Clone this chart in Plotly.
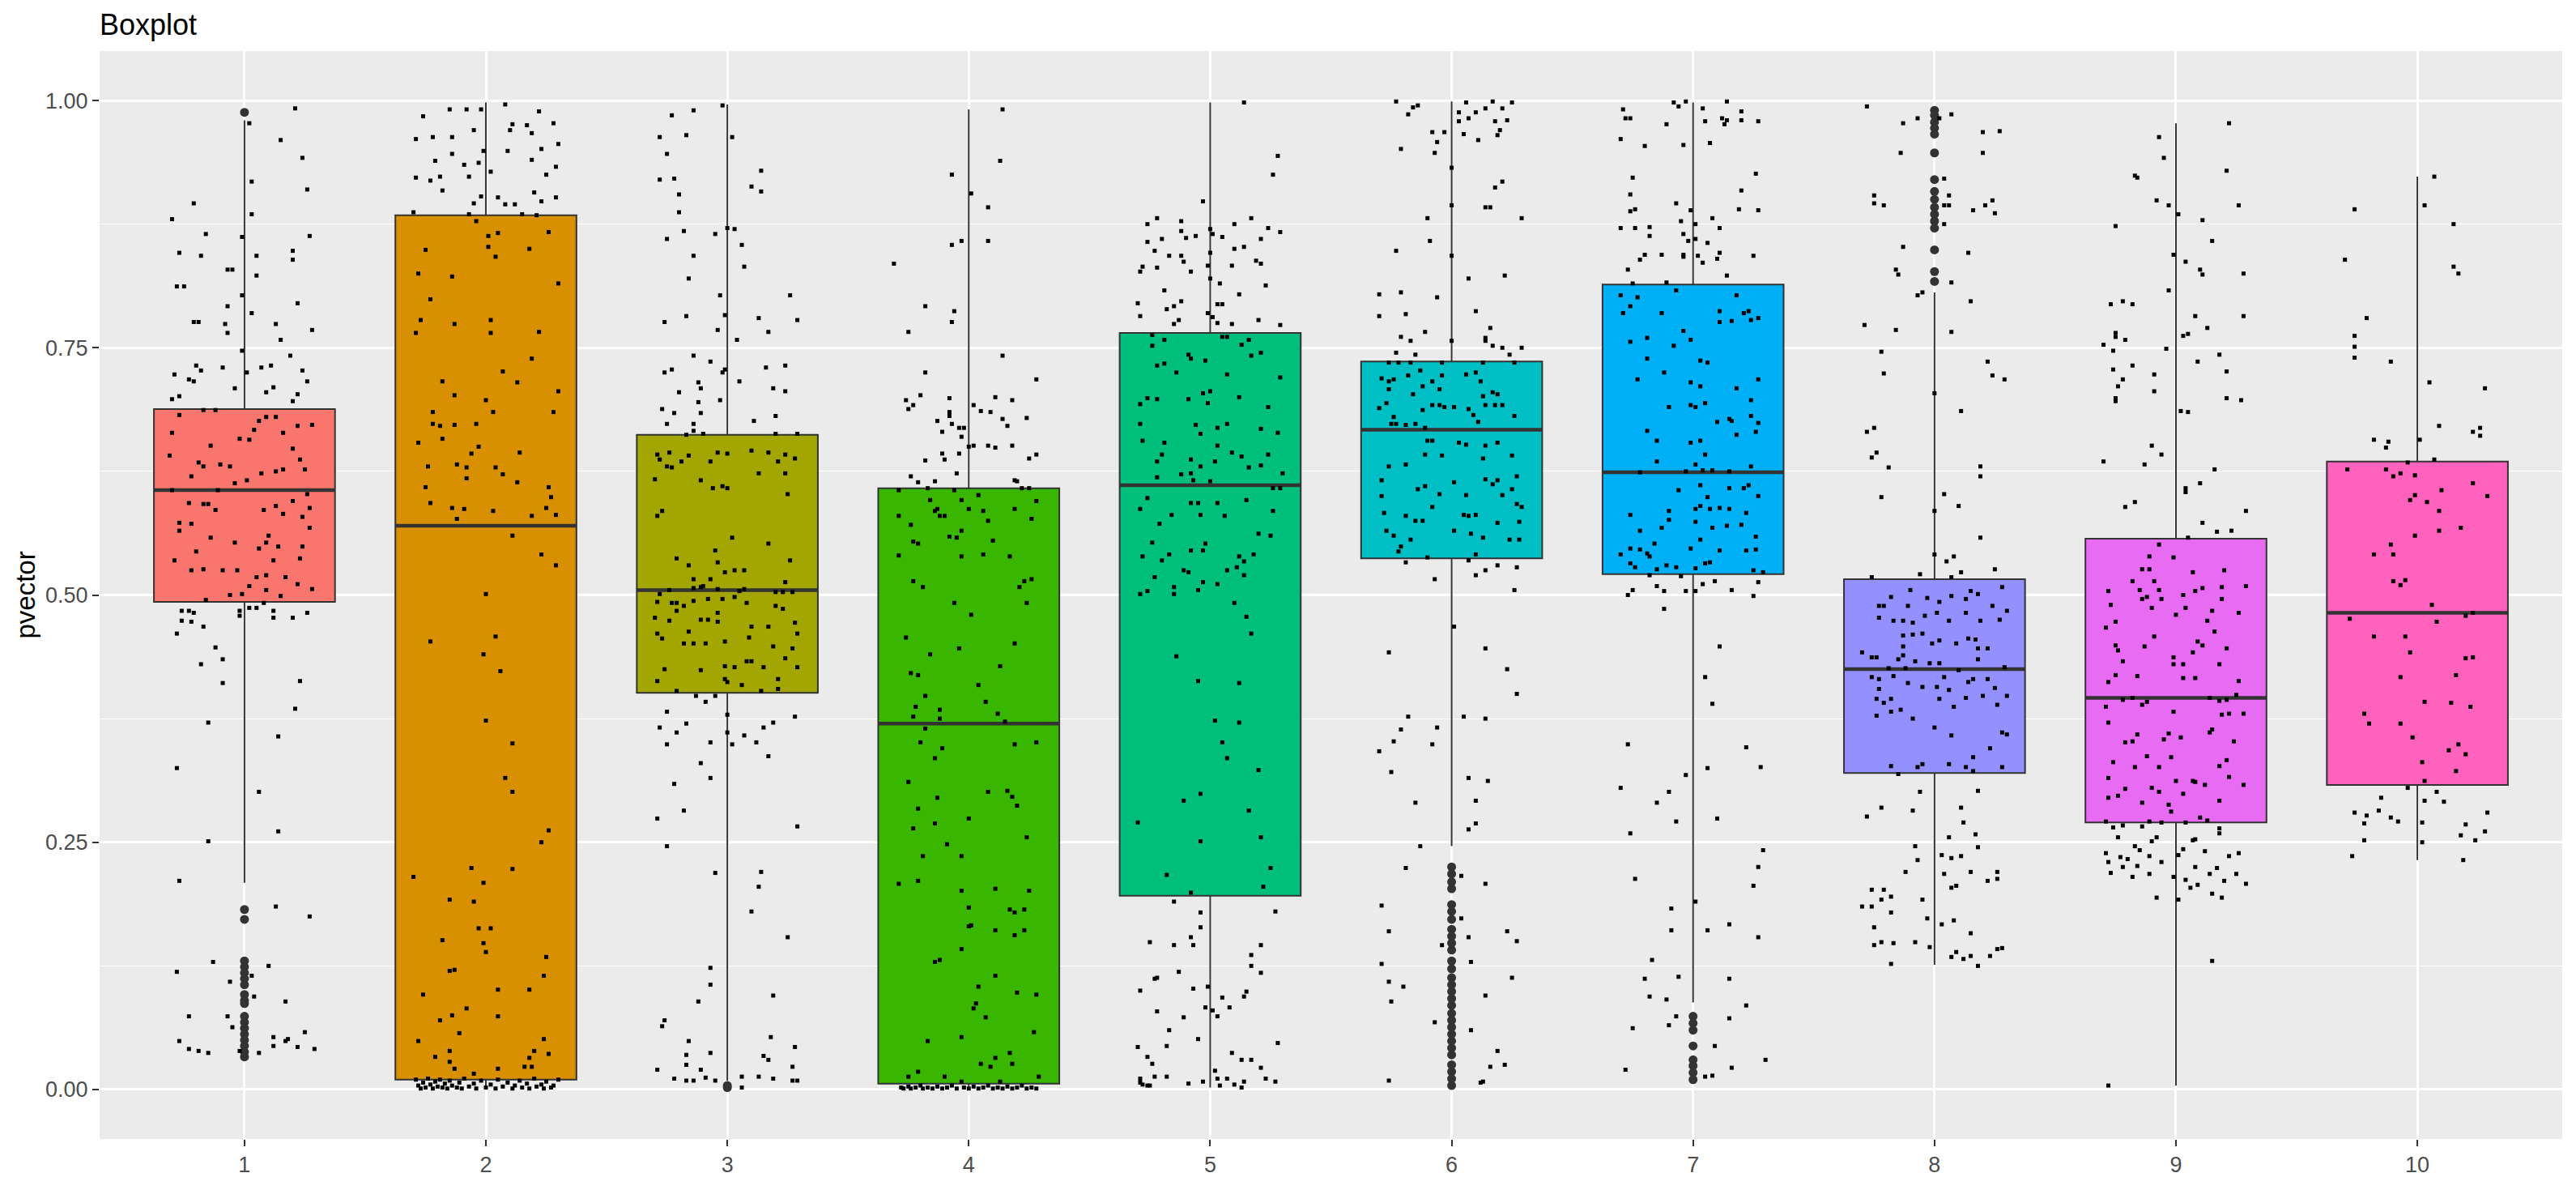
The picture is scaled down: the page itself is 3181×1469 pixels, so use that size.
import plotly.graph_objects as go

groups = [1, 2, 3, 4, 5, 6, 7, 8, 9, 10]
tick_labels = ["1", "2", "3", "4", "5", "6", "7", "8", "9", "10"]
fill_colors = ["#F8766D", "#D89000", "#A3A500", "#39B600", "#00BF7D",
               "#00BFC4", "#00B0F6", "#9590FF", "#E76BF3", "#FF62BC"]

# box statistics
q1s = [0.493, 0.010, 0.401, 0.006, 0.196, 0.537, 0.521, 0.320, 0.270, 0.308]
medians = [0.606, 0.570, 0.505, 0.370, 0.611, 0.667, 0.624, 0.425, 0.396, 0.482]
q3s = [0.688, 0.884, 0.662, 0.608, 0.765, 0.736, 0.814, 0.516, 0.557, 0.635]
low_whisker = [0.209, 0.0005, 0.009, 0.0005, 0.002, 0.246, 0.088, 0.126, 0.004, 0.232]
high_whisker = [0.980, 0.998, 0.996, 0.991, 0.998, 0.999, 0.998, 0.806, 0.977, 0.923]

# outliers (drawn at the group centre)
out_1 = [0.988, 0.182, 0.172, 0.130, 0.124, 0.118, 0.112, 0.106, 0.096, 0.090, 0.087,
         0.074, 0.068, 0.062, 0.056, 0.050, 0.044, 0.038, 0.033]
out_2 = []
out_3 = [0.004, 0.002]
out_4 = []
out_5 = []
out_6 = [0.225, 0.218, 0.210, 0.203, 0.187, 0.180, 0.172, 0.162, 0.155, 0.148, 0.141,
         0.130, 0.122, 0.113, 0.106, 0.099, 0.092, 0.085, 0.077, 0.070, 0.063, 0.056,
         0.049, 0.042, 0.035, 0.025, 0.018, 0.011, 0.004]
out_7 = [0.074, 0.067, 0.060, 0.044, 0.030, 0.024, 0.017, 0.010]
out_8 = [0.990, 0.985, 0.978, 0.972, 0.966, 0.947, 0.920, 0.908, 0.900, 0.892, 0.885,
         0.878, 0.871, 0.849, 0.827, 0.817]
out_9 = []
out_10 = []
outliers = [out_1, out_2, out_3, out_4, out_5, out_6, out_7, out_8, out_9, out_10]

# jittered observations: (horizontal jitter offset, value)
jit_1 = [(0.21,0.992),(0.02,0.977),(0.15,0.960),(0.24,0.942),(0.03,0.918),(0.26,0.910),(-0.21,0.896),
(-0.30,0.880),(0.03,0.885),(-0.01,0.862),(-0.16,0.865),(0.27,0.863),(-0.27,0.846),(-0.18,0.843),(0.05,0.843),
(0.20,0.848),(0.20,0.839),(-0.07,0.829),(-0.05,0.829),(0.05,0.823),(-0.28,0.812),(-0.25,0.812),(-0.01,0.803),
(-0.07,0.792),(0.22,0.795),(0.03,0.785),(-0.21,0.776),(-0.19,0.776),(-0.08,0.774),(-0.07,0.765),(0.13,0.774),
(0.15,0.758),(0.28,0.768),(-0.01,0.747),(0.19,0.742),(-0.29,0.723),(-0.23,0.718),(-0.20,0.732),(-0.18,0.727),
(-0.09,0.730),(0.01,0.725),(0.07,0.730),(0.11,0.732),(0.24,0.727),(0.26,0.716),(-0.21,0.716),(-0.27,0.701),
(-0.30,0.698),(-0.04,0.709),(0.09,0.705),(0.12,0.710),(0.20,0.696),(0.22,0.703),
(-0.27,0.682),(-0.17,0.687),(-0.12,0.687),(-0.30,0.664),(-0.14,0.651),(-0.31,0.641),(-0.22,0.620),(-0.19,0.634),
(-0.17,0.630),(-0.10,0.632),(-0.06,0.630),(-0.02,0.658),(0.02,0.657),(0.04,0.667),(0.06,0.676),(0.09,0.680),
(0.13,0.680),(0.16,0.664),(0.22,0.671),(0.28,0.672),(0.20,0.648),(0.23,0.637),(0.25,0.627),(0.16,0.627),
(0.13,0.625),(0.07,0.623),(0.01,0.616),(-0.04,0.613),(-0.11,0.606),(-0.30,0.606),(-0.23,0.593),(-0.17,0.592),
(-0.15,0.592),(-0.12,0.586),(-0.27,0.573),(-0.22,0.572),(-0.27,0.565),(-0.14,0.558),(-0.20,0.544),(-0.29,0.535),
(-0.22,0.525),(-0.17,0.526),(-0.09,0.525),(-0.03,0.525),(-0.04,0.553),(0.02,0.509),(0.06,0.547),(0.09,0.553),
(0.10,0.560),(0.14,0.549),(0.08,0.586),(0.13,0.590),(0.16,0.582),(0.20,0.595),(0.26,0.602),(0.27,0.588),
(0.24,0.579),(0.27,0.568),(0.23,0.537),(0.24,0.549),(0.12,0.535),(0.17,0.518),(0.09,0.520),(0.09,0.505),
(0.15,0.499),(0.22,0.511),(0.28,0.506),(-0.06,0.500),(-0.16,0.495),(-0.01,0.501),(0.05,0.518),
(-0.26,0.484),(-0.23,0.484),(-0.21,0.482),(-0.28,0.461),(-0.26,0.474),(-0.22,0.473),(-0.17,0.468),(-0.12,0.447),
(-0.18,0.430),(-0.09,0.435),(-0.09,0.411),(-0.02,0.484),(-0.02,0.479),(0.02,0.487),(0.05,0.487),(0.08,0.492),
(0.12,0.484),(0.12,0.477),(0.20,0.477),(0.26,0.482),(0.23,0.413),(0.21,0.385),(-0.15,0.371),(0.14,0.357),
(-0.28,0.325),(0.06,0.301),(-0.15,0.251),(0.14,0.261),(-0.27,0.211),
(0.13,0.185),(0.27,0.175),(-0.13,0.129),(-0.28,0.119),(0.10,0.125),(-0.06,0.109),(0.03,0.115),(0.04,0.094),
(0.17,0.089),(-0.23,0.074),(-0.07,0.074),(-0.05,0.063),(-0.27,0.049),(-0.23,0.041),(-0.19,0.039),(-0.15,0.037),
(-0.02,0.039),(0.06,0.037),(0.12,0.053),(0.12,0.044),(0.17,0.049),(0.18,0.051),(0.22,0.043),(0.25,0.058),(0.29,0.041)]

jit_2 = [(-0.26,0.984),(-0.15,0.991),(-0.08,0.991),(-0.02,0.991),(0.08,0.996),(0.11,0.976),(0.17,0.975),
(0.22,0.989),(0.28,0.977),(-0.29,0.961),(-0.22,0.963),(-0.14,0.963),(-0.05,0.970),(-0.01,0.949),(0.09,0.949),
(0.10,0.970),(0.19,0.967),(0.23,0.951),(0.30,0.956),(-0.21,0.939),(-0.14,0.946),(-0.09,0.935),(-0.03,0.937),
(0.19,0.940),(-0.29,0.922),(-0.23,0.919),(-0.19,0.923),(-0.07,0.923),(0.02,0.928),(0.25,0.925),(0.29,0.933),
(-0.18,0.909),(0.20,0.907),(0.29,0.902),(-0.05,0.896),(-0.02,0.903),(0.05,0.902),(0.08,0.895),(0.12,0.895),
(0.23,0.898),(-0.30,0.887),(-0.07,0.885),(0.15,0.885),(0.21,0.884),
(-0.04,0.878),(0.01,0.863),(0.05,0.866),(0.01,0.852),(0.04,0.842),(-0.25,0.849),(0.18,0.850),(0.26,0.867),
(-0.28,0.825),(-0.14,0.822),(0.30,0.815),(-0.23,0.799),(-0.27,0.778),(-0.29,0.765),(-0.13,0.774),(0.02,0.778),
(0.02,0.765),(0.22,0.766),(0.19,0.739),(0.07,0.726),(-0.18,0.716),(0.13,0.715),(0.30,0.706),(-0.13,0.702),
(0.00,0.697),(-0.22,0.685),(0.03,0.685),(0.28,0.685),(-0.22,0.673),(-0.19,0.671),(-0.13,0.672),(-0.04,0.673),
(-0.18,0.658),(-0.28,0.654),(-0.03,0.650),(-0.06,0.643),(0.14,0.644),(-0.24,0.630),(-0.12,0.632),(-0.08,0.629),
(0.04,0.629),(0.07,0.622),(-0.25,0.609),(-0.08,0.618),(0.13,0.614),(0.26,0.609),(0.27,0.599),(-0.23,0.593),
(-0.14,0.588),(-0.09,0.587),(0.03,0.585),(0.25,0.588),(0.29,0.581),(0.19,0.580),(-0.12,0.577),
(0.11,0.560),(0.23,0.541),(0.29,0.530),(0.00,0.501),(-0.23,0.453),(0.04,0.458),(-0.01,0.440),(0.06,0.423),
(0.00,0.373),(0.11,0.350),(0.08,0.315),(0.11,0.301),(0.23,0.250),(0.26,0.262),(-0.30,0.215),(-0.06,0.224),
(-0.01,0.209),(0.11,0.223),(-0.15,0.192),(-0.05,0.190),(-0.03,0.163),(0.02,0.163),(-0.01,0.148),(0.00,0.139),
(-0.18,0.151),(-0.15,0.120),(-0.13,0.121),(0.25,0.134),(0.24,0.115),(-0.26,0.096),(-0.08,0.082),(0.05,0.101),
(0.18,0.101),(-0.19,0.070),(-0.14,0.075),(-0.11,0.057),(0.05,0.074),(-0.28,0.049),(-0.21,0.033),(-0.15,0.039),
(-0.15,0.028),(-0.13,0.021),(0.18,0.032),(0.20,0.039),(0.24,0.051),(0.26,0.036),(0.16,0.023),(0.19,0.023),
(0.05,0.021),(-0.05,0.016),
(-0.29,0.010),(-0.28,0.004),(-0.27,0.001),(-0.26,0.007),(-0.25,0.002),(-0.24,0.011),(-0.23,0.005),(-0.22,0.001),
(-0.21,0.008),(-0.20,0.003),(-0.19,0.010),(-0.18,0.002),(-0.17,0.006),(-0.16,0.001),(-0.15,0.009),(-0.14,0.004),
(-0.12,0.002),(-0.11,0.007),(-0.10,0.001),(-0.09,0.011),(-0.07,0.003),(-0.05,0.006),(-0.04,0.001),(-0.02,0.009),
(0.00,0.002),(0.02,0.005),(0.04,0.001),(0.05,0.010),(0.07,0.003),(0.09,0.007),(0.11,0.001),(0.12,0.004),
(0.14,0.009),(0.15,0.002),(0.17,0.006),(0.18,0.001),(0.20,0.011),(0.21,0.003),(0.23,0.005),(0.24,0.001),
(0.25,0.008),(0.27,0.002),(0.28,0.004),(0.30,0.010)]

jit_3 = [(-0.02,0.995),(-0.14,0.990),(-0.23,0.985),(-0.28,0.963),(-0.17,0.965),(-0.25,0.946),(0.02,0.963),
(-0.28,0.920),(-0.22,0.921),(-0.20,0.905),(-0.20,0.887),(0.10,0.913),(0.14,0.929),(0.14,0.908),(-0.25,0.860),
(-0.18,0.868),(-0.05,0.865),(0.00,0.871),(0.03,0.870),(0.06,0.854),(-0.14,0.843),(0.07,0.832),(-0.16,0.820),
(-0.03,0.803),(0.26,0.803),(-0.26,0.776),(-0.17,0.782),(-0.01,0.783),(0.13,0.780),(0.29,0.778),(-0.04,0.768),
(0.17,0.766),(0.04,0.758),(-0.14,0.742),(-0.07,0.736),(-0.26,0.725),(-0.23,0.728),(-0.12,0.715),(-0.02,0.725),
(-0.01,0.728),(0.05,0.716),(0.16,0.730),(0.24,0.732),(-0.20,0.705),(-0.11,0.709),(-0.03,0.697),(0.19,0.709),
(0.24,0.706),(-0.27,0.688),(-0.22,0.684),(-0.12,0.695),(-0.11,0.684),(-0.25,0.673),(-0.14,0.673),(0.11,0.676),
(0.20,0.681),(-0.17,0.662),(-0.10,0.663),(0.20,0.663),(0.29,0.663),(-0.14,0.666),
(-0.29,0.642),(-0.24,0.644),(-0.28,0.637),(-0.25,0.630),(-0.23,0.629),(-0.19,0.635),(-0.16,0.641),(-0.07,0.635),
(-0.04,0.644),(0.00,0.643),(0.10,0.646),(0.13,0.623),(0.17,0.644),(0.21,0.635),(0.24,0.642),(0.24,0.623),
(0.28,0.638),(-0.30,0.617),(-0.11,0.616),(-0.06,0.608),(-0.02,0.610),(0.00,0.608),(0.25,0.602),(-0.29,0.580),
(-0.27,0.585),(0.02,0.558),(0.17,0.552),(-0.21,0.537),(-0.05,0.545),(-0.04,0.533),(-0.16,0.530),(-0.01,0.523),
(0.03,0.525),(0.07,0.525),(0.26,0.535),(-0.14,0.516),(-0.07,0.516),(0.24,0.513),(-0.24,0.505),(-0.14,0.507),
(-0.11,0.508),(-0.10,0.509),(-0.04,0.506),(0.05,0.504),(0.07,0.506),(0.20,0.503),(0.23,0.503),(0.27,0.503),
(-0.28,0.501),(-0.29,0.493),(-0.23,0.492),(-0.21,0.492),(-0.18,0.489),(-0.14,0.494),(-0.08,0.496),(-0.02,0.496),
(0.03,0.498),(0.08,0.492),(0.20,0.489),(0.23,0.486),(-0.30,0.477),(-0.24,0.474),(-0.21,0.484),(-0.16,0.463),
(-0.11,0.475),(-0.08,0.475),(-0.04,0.482),(-0.04,0.473),(0.10,0.468),(0.17,0.468),(0.28,0.472),(0.29,0.461),
(-0.29,0.461),(-0.27,0.456),(-0.18,0.451),(-0.14,0.451),(-0.09,0.451),(-0.01,0.453),(0.09,0.457),(0.19,0.448),
(0.27,0.446),(0.08,0.433),(0.10,0.433),(0.24,0.436),(-0.26,0.425),(-0.11,0.424),(-0.01,0.428),(0.03,0.427),
(0.15,0.427),(0.29,0.427),(-0.29,0.413),(-0.01,0.415),(0.00,0.412),(0.06,0.409),(0.21,0.415),(0.14,0.403),
(-0.21,0.403),(0.21,0.405),
(-0.13,0.398),(-0.09,0.392),(-0.05,0.398),(-0.25,0.382),(0.00,0.379),(-0.28,0.366),(-0.21,0.361),(-0.17,0.370),
(0.00,0.361),(0.19,0.371),(0.15,0.366),(0.28,0.377),(-0.25,0.349),(-0.07,0.351),(0.02,0.349),(0.07,0.358),
(0.12,0.351),(0.17,0.337),(-0.11,0.330),(-0.07,0.315),(-0.22,0.309),(-0.29,0.274),(-0.18,0.282),(0.29,0.266),
(-0.25,0.246),(-0.05,0.219),(0.14,0.220),(0.13,0.205),(0.10,0.180),(0.25,0.154),(-0.07,0.123),(-0.07,0.106),
(-0.12,0.089),(0.19,0.095),(-0.26,0.070),(-0.27,0.064),(-0.16,0.049),(0.18,0.053),(0.28,0.043),(-0.17,0.035),
(-0.07,0.037),(0.15,0.034),(0.17,0.030),(-0.29,0.020),(-0.17,0.025),(-0.11,0.020),(-0.09,0.012),(0.27,0.023),
(-0.22,0.011),(-0.17,0.009),(-0.14,0.009),(0.06,0.013),(0.06,0.002),(0.13,0.013),(0.19,0.011),(0.27,0.009),
(0.29,0.009),(-0.05,0.009)]

jit_4 = [(0.14,0.991),(0.13,0.939),(-0.07,0.925),(0.01,0.906),(0.08,0.892),(0.08,0.858),(-0.31,0.835),
(-0.07,0.854),(-0.03,0.858),(-0.18,0.792),(-0.06,0.787),(-0.07,0.776),(-0.25,0.766),(0.14,0.742),(-0.18,0.725),
(0.28,0.718),(-0.26,0.697),(-0.25,0.688),(-0.23,0.692),(-0.20,0.702),(-0.08,0.699),(0.02,0.692),(0.05,0.686),
(0.09,0.685),(0.11,0.700),(0.11,0.649),(0.14,0.678),(0.18,0.697),(0.16,0.671),(0.24,0.679),(0.28,0.642),
(0.25,0.638),(-0.08,0.681),(-0.08,0.685),(-0.13,0.676),(-0.11,0.665),(-0.07,0.673),(-0.04,0.669),(-0.02,0.669),
(-0.03,0.660),(0.00,0.650),(0.02,0.651),(0.08,0.651),(0.18,0.651),(-0.18,0.636),(-0.11,0.643),(-0.10,0.637),
(-0.04,0.643),(-0.05,0.623),(-0.24,0.620),(-0.21,0.614),(-0.14,0.615),(0.19,0.616),(0.20,0.615),(0.22,0.608),
(0.25,0.608),(-0.29,0.606),(-0.17,0.608),
(-0.06,0.606),(-0.03,0.596),(0.00,0.587),(0.04,0.601),(0.06,0.585),(0.08,0.575),(0.19,0.587),(0.26,0.577),
(0.28,0.595),(-0.29,0.580),(-0.24,0.571),(-0.14,0.585),(-0.12,0.580),(-0.10,0.580),(-0.16,0.596),(-0.13,0.587),
(-0.23,0.554),(-0.21,0.552),(-0.08,0.559),(-0.05,0.558),(-0.03,0.565),(0.06,0.541),(0.10,0.555),(0.17,0.539),
(-0.29,0.540),(-0.03,0.539),(-0.23,0.514),(-0.19,0.508),(-0.06,0.492),(0.01,0.480),(0.21,0.508),(0.24,0.492),
(0.23,0.514),(0.26,0.516),(-0.26,0.457),(-0.16,0.440),(-0.04,0.446),(0.19,0.451),(-0.24,0.421),(-0.21,0.419),
(-0.18,0.398),(0.04,0.409),(0.07,0.392),(0.13,0.428),(-0.22,0.387),(-0.23,0.377),(-0.12,0.384),(-0.12,0.375),
(0.12,0.380),(0.15,0.372),(-0.18,0.365),(-0.20,0.351),(-0.11,0.345),(-0.14,0.335),(0.19,0.349),(0.28,0.351),
(-0.25,0.311),(-0.21,0.284),(-0.13,0.295),(0.08,0.301),(0.16,0.302),(0.18,0.296),(0.20,0.287),(-0.23,0.264),
(-0.14,0.269),(0.00,0.274),(-0.09,0.248),(0.24,0.255),(-0.19,0.236),(-0.03,0.236),(-0.29,0.208),(-0.21,0.211),
(-0.03,0.201),(0.11,0.203),(0.25,0.201),(0.00,0.184),(0.17,0.182),(0.19,0.179),(0.23,0.182),(0.00,0.165),
(0.01,0.166),(0.11,0.161),(0.19,0.156),(0.23,0.161),(-0.03,0.142),(-0.14,0.129),(-0.12,0.131),(0.11,0.115),
(0.04,0.104),(0.03,0.087),(0.02,0.082),(0.20,0.098),(0.28,0.096),(0.07,0.073),(-0.17,0.049),(-0.03,0.053),
(0.27,0.058),(0.11,0.032),(0.17,0.037),(0.18,0.026),(0.05,0.026),(0.09,0.023),(-0.21,0.018),(-0.10,0.013),
(-0.25,0.013),(0.29,0.013),(-0.03,0.008),(0.13,0.008),
(-0.28,0.002),(-0.27,0.001),(-0.25,0.003),(-0.24,0.001),(-0.22,0.002),(-0.20,0.004),(-0.19,0.001),(-0.17,0.002),
(-0.15,0.001),(-0.13,0.003),(-0.11,0.001),(-0.09,0.002),(-0.07,0.004),(-0.05,0.001),(-0.02,0.002),(0.00,0.001),
(0.02,0.003),(0.04,0.001),(0.06,0.002),(0.08,0.004),(0.10,0.001),(0.12,0.002),(0.14,0.001),(0.16,0.003),
(0.18,0.001),(0.20,0.002),(0.22,0.004),(0.24,0.001),(0.26,0.002),(0.28,0.001)]

jit_5 = [(0.14,0.998),(0.28,0.944),(0.26,0.925),(-0.03,0.898),(-0.26,0.875),(-0.22,0.881),(-0.12,0.878),
(-0.12,0.868),(-0.06,0.863),(0.00,0.870),(0.01,0.865),(0.05,0.862),(0.10,0.875),(0.17,0.881),(0.24,0.871),
(0.29,0.867),(-0.26,0.857),(-0.20,0.860),(-0.10,0.861),(0.21,0.860),(-0.23,0.848),(-0.17,0.843),(-0.12,0.843),
(0.00,0.846),(0.10,0.850),(0.14,0.852),(-0.29,0.827),(-0.28,0.832),(-0.22,0.831),(-0.11,0.837),(-0.08,0.827),
(-0.01,0.833),(0.09,0.833),(0.19,0.838),(0.21,0.835),(0.00,0.820),(0.04,0.815),(0.23,0.813),(-0.19,0.808),
(-0.30,0.795),(-0.18,0.789),(-0.15,0.792),(-0.12,0.797),(-0.01,0.785),(0.03,0.794),(0.05,0.794),(0.12,0.804),
(-0.29,0.782),(-0.15,0.774),(-0.13,0.778),(0.01,0.781),(0.03,0.775),(0.09,0.774),(0.20,0.778),(0.29,0.773),
(-0.24,0.763),
(-0.24,0.752),(-0.19,0.758),(0.05,0.761),(0.07,0.761),(0.13,0.753),(0.16,0.758),(-0.22,0.732),(-0.19,0.734),
(-0.14,0.725),(-0.09,0.743),(-0.08,0.739),(-0.02,0.737),(0.07,0.723),(0.17,0.742),(0.21,0.745),(0.29,0.720),
(-0.22,0.698),(-0.09,0.698),(-0.03,0.704),(0.00,0.706),(0.12,0.700),(-0.26,0.699),(-0.29,0.693),(-0.01,0.694),
(0.24,0.690),(-0.29,0.673),(-0.06,0.672),(-0.04,0.663),(0.03,0.669),(0.07,0.673),(0.21,0.668),(0.28,0.664),
(-0.28,0.656),(-0.19,0.654),(0.03,0.651),(0.13,0.640),(0.24,0.642),(-0.22,0.635),(-0.20,0.642),(-0.08,0.637),
(-0.04,0.630),(0.02,0.635),(0.09,0.644),(0.16,0.629),(0.21,0.631),(0.30,0.623),(-0.22,0.619),(-0.12,0.622),
(-0.08,0.623),(-0.07,0.616),(0.00,0.615),(0.26,0.608),(-0.29,0.587),(-0.26,0.598),(-0.16,0.581),(-0.08,0.593),
(-0.05,0.593),(-0.04,0.581),(0.03,0.593),(0.06,0.580),(0.15,0.596),(0.26,0.585),(0.29,0.608),(-0.21,0.572),
(0.20,0.562),(0.25,0.560),(-0.28,0.539),(-0.24,0.553),(-0.20,0.535),(-0.17,0.541),(-0.08,0.545),(-0.03,0.545),
(-0.02,0.552),(0.07,0.525),(0.12,0.539),(0.14,0.534),(0.18,0.541),(-0.23,0.518),(-0.15,0.508),(-0.15,0.501),
(-0.11,0.525),(-0.09,0.523),(-0.05,0.505),(-0.03,0.513),(0.03,0.511),(0.11,0.528),(0.14,0.520),(-0.29,0.501),
(-0.26,0.504),(0.10,0.492),(0.15,0.478),(0.17,0.461),(-0.14,0.438),(-0.05,0.413),(0.12,0.411),(0.02,0.373),
(0.12,0.371),(0.05,0.351),(0.07,0.335),(0.20,0.323),(-0.11,0.292),(-0.04,0.299),(0.16,0.282),(-0.30,0.270),
(-0.04,0.251),(0.21,0.255),(0.25,0.224),(-0.18,0.217),(0.22,0.205),(-0.08,0.199),
(-0.15,0.190),(-0.04,0.179),(-0.04,0.164),(-0.08,0.154),(-0.25,0.149),(-0.15,0.146),(-0.07,0.146),(0.21,0.146),
(0.27,0.180),(0.17,0.136),(0.17,0.125),(0.21,0.118),(-0.13,0.119),(-0.23,0.112),(-0.22,0.113),(-0.07,0.102),
(-0.29,0.100),(-0.01,0.104),(0.05,0.093),(0.15,0.099),(0.14,0.094),(-0.22,0.079),(-0.11,0.073),(-0.02,0.083),
(0.01,0.080),(0.03,0.074),(0.08,0.083),(-0.17,0.060),(-0.05,0.051),(-0.18,0.044),(-0.30,0.043),(-0.26,0.033),
(-0.24,0.026),(0.09,0.037),(0.13,0.030),(0.17,0.030),(0.21,0.022),(0.28,0.047),(-0.29,0.011),(-0.28,0.005),
(-0.25,0.004),(-0.23,0.013),(-0.18,0.013),(-0.09,0.006),(-0.03,0.008),(0.02,0.019),(0.03,0.011),(0.04,0.004),
(0.07,0.011),(0.10,0.005),(0.13,0.002),(0.14,0.008),(0.23,0.011),(0.27,0.008),(-0.29,0.007),(-0.26,0.004)]

jit_6 = [(-0.23,0.999),(-0.18,0.986),(-0.16,0.993),(-0.14,0.995),(0.03,0.988),(0.06,0.998),(0.07,0.982),
(0.10,0.988),(0.14,0.992),(0.17,0.999),(0.18,0.979),(0.21,0.992),(0.23,0.980),(0.25,0.998),(0.03,0.979),
(0.20,0.970),(-0.08,0.968),(-0.06,0.958),(-0.03,0.968),(0.05,0.966),(0.11,0.960),(0.19,0.965),(-0.21,0.951),
(-0.07,0.947),(0.00,0.932),(0.18,0.912),(0.21,0.918),(0.14,0.892),(0.16,0.892),(0.00,0.894),(-0.10,0.881),
(0.29,0.881),(-0.09,0.858),(-0.23,0.848),(0.00,0.843),(0.07,0.820),(0.22,0.823),(-0.30,0.804),(-0.21,0.806),
(-0.06,0.801),(-0.30,0.782),(-0.19,0.784),(0.10,0.787),(-0.11,0.766),(-0.21,0.761),(-0.17,0.757),(0.14,0.760),
(0.16,0.770),(-0.23,0.745),(-0.15,0.743),(0.00,0.757),(0.14,0.757),(0.17,0.752),(0.21,0.750),(0.24,0.743),
(0.29,0.750),
(-0.26,0.735),(-0.22,0.735),(-0.17,0.735),(-0.04,0.735),(0.13,0.735),(0.26,0.735),(-0.29,0.719),(-0.26,0.716),
(-0.24,0.718),(-0.18,0.722),(-0.13,0.727),(-0.08,0.716),(-0.04,0.722),(0.06,0.723),(0.10,0.725),(0.12,0.716),
(-0.26,0.708),(-0.16,0.703),(-0.12,0.711),(-0.05,0.708),(0.13,0.701),(0.17,0.705),(0.19,0.703),(-0.30,0.689),
(-0.27,0.694),(-0.24,0.680),(-0.12,0.687),(-0.08,0.692),(-0.05,0.692),(-0.03,0.690),(0.01,0.690),(0.07,0.688),
(0.09,0.682),(0.14,0.692),(0.18,0.692),(0.21,0.692),(0.26,0.681),(-0.25,0.673),(-0.23,0.673),(-0.19,0.672),
(-0.15,0.673),(-0.11,0.669),(0.11,0.675),(-0.10,0.656),(-0.08,0.656),(0.03,0.654),(0.06,0.652),(0.14,0.651),
(0.19,0.654),(-0.11,0.642),(-0.04,0.641),(0.13,0.638),(0.25,0.641),(-0.26,0.630),(-0.19,0.632),(0.01,0.614),
(0.14,0.617),(0.17,0.612),(0.19,0.616),(0.27,0.620),(-0.29,0.616),(-0.14,0.607),(-0.11,0.610),(-0.29,0.600),
(-0.05,0.602),(0.06,0.601),(0.21,0.601),(0.25,0.607),(-0.08,0.589),(0.27,0.592),(0.29,0.589),(-0.28,0.583),
(-0.19,0.580),(-0.15,0.575),(-0.12,0.575),(0.05,0.581),(0.07,0.580),(0.10,0.581),(0.19,0.573),(0.28,0.574),
(-0.27,0.565),(-0.24,0.560),(-0.17,0.556),(0.01,0.565),(0.08,0.562),(0.13,0.558),(0.24,0.556),(0.28,0.556),
(-0.21,0.549),(-0.22,0.544),(0.10,0.541),(-0.10,0.538),(0.07,0.535),
(-0.19,0.533),(0.10,0.520),(0.14,0.525),(0.19,0.530),(0.27,0.528),(-0.07,0.516),(0.26,0.505),(0.01,0.468),
(-0.26,0.442),(0.14,0.446),(0.23,0.425),(0.27,0.400),(-0.18,0.377),(0.05,0.377),(0.14,0.375),(-0.21,0.364),
(-0.06,0.366),(-0.24,0.352),(-0.08,0.349),(-0.30,0.342),(-0.25,0.321),(0.07,0.315),(0.15,0.312),(-0.15,0.290),
(0.10,0.292),(0.10,0.269),(0.07,0.263),(-0.13,0.246),
(-0.19,0.224),(0.04,0.216),(0.14,0.208),(-0.29,0.186),(0.04,0.173),(-0.26,0.160),(0.07,0.154),(0.23,0.160),
(0.27,0.150),(-0.04,0.146),(0.08,0.129),(-0.29,0.127),(-0.26,0.109),(-0.20,0.104),(0.25,0.113),(-0.25,0.089),
(0.14,0.095),(-0.07,0.068),(0.08,0.060),(0.19,0.039),(0.16,0.023),(0.22,0.025),(-0.26,0.009),(0.12,0.007),
(0.13,0.008)]

jit_7 = [(-0.29,0.991),(-0.28,0.982),(-0.26,0.982),(-0.08,0.998),(-0.06,0.994),(-0.03,0.999),(0.04,0.992),
(0.05,0.979),(0.14,0.999),(0.12,0.982),(0.14,0.980),(0.13,0.976),(0.20,0.989),(0.20,0.980),(0.27,0.979),
(-0.11,0.976),(-0.30,0.961),(-0.20,0.954),(-0.04,0.955),(0.07,0.957),(0.26,0.926),(-0.25,0.922),(0.20,0.909),
(-0.26,0.905),(-0.26,0.888),(-0.24,0.890),(-0.07,0.896),(-0.01,0.889),(0.08,0.881),(0.19,0.890),(0.27,0.889),
(-0.30,0.871),(-0.24,0.871),(-0.18,0.872),(-0.05,0.878),(-0.04,0.865),(0.01,0.875),(0.11,0.871),(-0.18,0.863),
(-0.02,0.858),(0.01,0.860),(0.06,0.856),(-0.27,0.829),(-0.22,0.839),(-0.20,0.844),(-0.13,0.844),(-0.04,0.844),
(-0.04,0.842),(0.02,0.843),(0.04,0.836),(0.10,0.840),(0.11,0.846),(0.25,0.843),(-0.25,0.815),(-0.11,0.816),
(0.14,0.823),
(-0.30,0.803),(-0.23,0.801),(-0.07,0.808),(0.18,0.803),(-0.29,0.785),(-0.26,0.792),(-0.13,0.785),(0.11,0.787),
(0.11,0.776),(0.16,0.777),(0.21,0.785),(0.23,0.787),(0.24,0.778),(0.27,0.780),(-0.26,0.756),(-0.19,0.760),
(-0.04,0.767),(-0.01,0.758),(-0.08,0.752),(-0.19,0.739),(0.03,0.737),(0.06,0.735),(-0.23,0.718),(-0.12,0.725),
(-0.01,0.715),(0.03,0.711),(0.18,0.709),(0.27,0.718),(-0.01,0.692),(-0.10,0.690),(0.01,0.690),(0.05,0.694),
(0.10,0.675),(0.15,0.678),(0.16,0.676),(0.24,0.697),(0.24,0.681),(0.27,0.674),(-0.19,0.666),(-0.15,0.656),
(-0.01,0.654),(0.03,0.656),(0.18,0.662),(0.05,0.642),(0.26,0.665),(-0.15,0.635),(-0.03,0.625),(0.01,0.632),
(0.04,0.626),(0.08,0.626),(0.15,0.625),(0.24,0.630),(-0.22,0.624),(-0.06,0.606),(0.03,0.611),(0.06,0.599),
(0.15,0.608),(0.21,0.608),(0.23,0.611),(0.27,0.600),(-0.26,0.581),(-0.10,0.585),(0.01,0.587),(0.03,0.590),
(0.07,0.587),(0.11,0.588),(0.15,0.587),(0.22,0.583),(-0.13,0.568),(-0.10,0.576),(0.01,0.574),(0.08,0.568),
(0.14,0.570),(0.20,0.571),(-0.22,0.565),(0.26,0.559),(0.03,0.556),(-0.22,0.546),(-0.16,0.552),(-0.30,0.541),
(-0.26,0.547),(-0.19,0.542),(-0.18,0.539),(-0.01,0.547),(0.05,0.532),(0.11,0.545),(0.22,0.545),(0.26,0.546),
(-0.26,0.532),(-0.24,0.528),(-0.15,0.526),(-0.11,0.530),(-0.07,0.528),(0.01,0.527),(0.07,0.533),(0.25,0.525),
(0.29,0.523),
(-0.27,0.500),(-0.25,0.505),(-0.18,0.520),(-0.15,0.509),(-0.12,0.504),(-0.12,0.486),(-0.05,0.519),(-0.03,0.504),
(0.01,0.504),(0.04,0.511),(0.09,0.514),(0.16,0.505),(0.27,0.513),(0.25,0.499),(0.11,0.448),(0.05,0.417),
(0.08,0.390),(-0.27,0.349),(0.22,0.346),(-0.30,0.305),(-0.03,0.318),(0.06,0.325),(0.28,0.326),(-0.15,0.290),
(-0.10,0.301),(-0.07,0.271),(0.10,0.274),(-0.26,0.259),(-0.24,0.213),(0.01,0.190),(-0.09,0.183),(-0.09,0.161),
(0.06,0.161),(0.15,0.167),(0.29,0.242),(0.27,0.225),(0.25,0.206),(0.27,0.154),(-0.17,0.131),(-0.20,0.112),
(-0.06,0.114),(0.15,0.112),(-0.18,0.094),(-0.11,0.091),(0.22,0.085),(-0.07,0.074),(-0.10,0.065),(-0.25,0.062),
(0.15,0.072),(0.09,0.044),(-0.28,0.020),(0.16,0.022),(0.30,0.030),(0.05,0.013),(0.08,0.014)]

jit_8 = [(-0.28,0.994),(-0.13,0.977),(-0.07,0.982),(0.02,0.982),(0.07,0.986),(0.20,0.968),(0.27,0.969),
(-0.14,0.947),(0.20,0.947),(0.04,0.921),(0.06,0.904),(0.06,0.894),(0.04,0.894),(-0.25,0.904),(-0.25,0.896),
(-0.21,0.894),(0.04,0.875),(0.16,0.889),(0.21,0.894),(0.24,0.899),(0.25,0.886),(-0.13,0.852),(0.14,0.846),
(-0.16,0.829),(-0.15,0.824),(0.07,0.816),(-0.05,0.806),(-0.07,0.803),(0.15,0.797),(-0.29,0.773),(-0.16,0.768),
(0.07,0.766),(-0.22,0.746),(0.22,0.736),(0.24,0.722),(0.29,0.718),(-0.21,0.724),(0.00,0.704),(0.11,0.686),
(-0.28,0.665),(-0.25,0.669),(-0.26,0.639),(-0.24,0.644),(-0.19,0.629),(0.19,0.630),(0.19,0.620),(-0.22,0.599),
(0.04,0.602),(0.10,0.590),(0.00,0.585),(0.19,0.558),(0.00,0.541),(0.05,0.534),(0.08,0.539),(-0.06,0.521),
(0.07,0.518),(0.11,0.523),(-0.26,0.518),(0.25,0.526),
(-0.18,0.498),(-0.10,0.505),(-0.03,0.497),(0.02,0.493),(0.07,0.499),(0.13,0.496),(0.15,0.504),(0.18,0.501),
(0.28,0.508),(-0.23,0.489),(-0.21,0.489),(-0.11,0.489),(0.01,0.482),(0.24,0.489),(0.30,0.484),(-0.23,0.477),
(-0.17,0.474),(-0.13,0.474),(-0.09,0.472),(-0.04,0.479),(0.06,0.474),(0.13,0.482),(0.19,0.474),(0.27,0.475),
(-0.13,0.459),(-0.09,0.460),(-0.05,0.461),(0.02,0.454),(0.14,0.456),(0.17,0.455),(-0.13,0.448),(-0.01,0.451),
(0.09,0.451),(0.18,0.446),(0.22,0.446),(-0.30,0.442),(-0.26,0.437),(-0.24,0.437),(-0.15,0.435),(-0.13,0.439),
(-0.08,0.433),(-0.02,0.431),(0.02,0.431),(0.18,0.435),(0.29,0.427),(-0.19,0.426),(-0.12,0.426),(0.10,0.424),
(-0.26,0.417),(-0.23,0.415),(-0.17,0.418),(-0.11,0.411),(-0.05,0.407),(0.01,0.407),(0.04,0.417),(0.06,0.404),
(0.14,0.412),(0.22,0.415),(0.25,0.406),(-0.23,0.405),(0.16,0.415),(0.20,0.398),(0.30,0.398),(-0.24,0.395),
(-0.21,0.391),(-0.18,0.395),(0.02,0.395),(0.08,0.387),(0.13,0.396),(0.26,0.389),(-0.24,0.378),(-0.18,0.382),
(-0.14,0.384),(-0.09,0.375),(0.00,0.366),(0.07,0.358),(0.28,0.361),(0.30,0.359),(0.23,0.345),(0.16,0.336),
(-0.18,0.327),(-0.07,0.326),(-0.05,0.329),(0.06,0.329),(0.13,0.326),(0.16,0.322),(0.28,0.326),
(-0.15,0.319),(-0.06,0.301),(0.18,0.302),(-0.28,0.276),(-0.22,0.285),(-0.09,0.282),(0.11,0.285),(0.12,0.270),
(-0.08,0.246),(-0.07,0.232),(0.17,0.258),(0.18,0.245),(0.06,0.255),(0.03,0.237),(0.07,0.234),(0.11,0.236),
(-0.12,0.220),(0.04,0.218),(0.07,0.204),(0.09,0.206),(0.15,0.220),(0.22,0.211),(0.26,0.220),(0.26,0.213),
(-0.26,0.202),(-0.22,0.192),(-0.21,0.202),(-0.18,0.195),(-0.30,0.185),(-0.26,0.185),(-0.18,0.179),(-0.05,0.192),
(-0.03,0.173),(0.03,0.167),(0.08,0.171),(0.15,0.158),(-0.25,0.164),(-0.25,0.146),(-0.22,0.149),(-0.17,0.148),
(-0.08,0.149),(-0.18,0.127),(0.07,0.134),(0.09,0.139),(0.12,0.132),(0.15,0.135),(0.18,0.125),(0.23,0.135),
(0.26,0.142),(0.28,0.143),(-0.02,0.144)]

jit_9 = [(0.22,0.977),(-0.07,0.963),(-0.05,0.942),(0.21,0.929),(-0.17,0.924),(-0.16,0.922),(-0.08,0.899),
(-0.03,0.894),(0.01,0.885),(0.11,0.879),(0.26,0.894),(-0.25,0.873),(0.15,0.858),(-0.01,0.844),(0.04,0.837),
(0.10,0.829),(0.11,0.824),(0.28,0.825),(-0.03,0.808),(-0.27,0.794),(-0.22,0.797),(-0.18,0.794),(0.08,0.782),
(0.28,0.782),(-0.25,0.765),(-0.25,0.761),(-0.21,0.758),(0.03,0.762),(0.05,0.764),(0.13,0.770),(-0.30,0.753),
(-0.26,0.747),(-0.04,0.749),(0.09,0.736),(0.18,0.743),(-0.26,0.728),(-0.18,0.732),(-0.09,0.723),(0.21,0.726),
(-0.22,0.718),(-0.24,0.711),(-0.09,0.706),(-0.25,0.699),(-0.25,0.696),(0.21,0.699),(0.27,0.697),(0.02,0.686),
(0.05,0.685),(-0.30,0.635),(-0.13,0.632),(-0.10,0.651),(-0.06,0.642),(0.16,0.627),(0.10,0.613),(0.04,0.608),
(0.04,0.604),(-0.21,0.589),(-0.17,0.594),(0.29,0.585),(0.11,0.573),(0.17,0.564),(0.23,0.565),(0.05,0.558),
(-0.07,0.551),(-0.01,0.538),(-0.11,0.539),(-0.14,0.526),(-0.11,0.526),(0.07,0.523),(0.20,0.525),(0.19,0.508),
(0.29,0.509),(-0.28,0.504),(-0.18,0.514),(-0.15,0.505),(-0.14,0.496),(-0.12,0.498),(-0.09,0.514),(-0.07,0.505),
(-0.06,0.496),(0.03,0.500),(0.04,0.487),(0.08,0.504),(0.11,0.507),(0.19,0.496),(-0.27,0.490),(-0.10,0.487),
(0.00,0.480),(0.15,0.484),(0.26,0.482),(-0.29,0.467),(-0.25,0.473),(-0.09,0.458),(0.13,0.474),(0.16,0.463),
(0.09,0.453),(-0.25,0.449),(-0.24,0.444),(-0.22,0.433),(-0.13,0.448),(-0.01,0.437),(-0.01,0.430),(0.03,0.430),
(0.07,0.442),(0.11,0.449),(0.18,0.430),(0.21,0.446),(-0.28,0.412),(-0.25,0.419),(-0.16,0.418),(0.03,0.416),
(0.08,0.416),(0.26,0.413),(-0.29,0.387),(-0.22,0.394),(-0.18,0.396),(-0.14,0.389),(-0.12,0.392),(-0.01,0.382),
(0.14,0.396),(0.18,0.393),(0.21,0.394),(0.25,0.399),(-0.28,0.371),(0.19,0.379),(0.22,0.380),(0.28,0.380),
(-0.21,0.351),(-0.18,0.352),(-0.16,0.359),(-0.05,0.354),(-0.03,0.360),(0.02,0.356),(0.14,0.361),(0.15,0.364),
(0.24,0.352),(-0.26,0.331),(-0.17,0.326),(-0.12,0.337),(-0.07,0.326),(-0.02,0.336),(0.07,0.312),(0.08,0.311),
(0.18,0.327),(0.21,0.333),(0.22,0.316),(0.28,0.308),(-0.28,0.315),(-0.21,0.304),(-0.10,0.305),(-0.07,0.301),
(0.00,0.312),(0.03,0.299),(0.12,0.308),(0.18,0.292),(-0.28,0.295),(-0.24,0.297),(-0.14,0.290),(-0.03,0.288),
(-0.02,0.281),(0.10,0.275),(0.13,0.272),
(-0.29,0.271),(-0.26,0.265),(-0.22,0.267),(-0.14,0.266),(-0.11,0.271),(-0.06,0.270),(0.04,0.270),(0.18,0.259),
(0.18,0.264),(-0.24,0.255),(-0.10,0.251),(-0.08,0.255),(0.07,0.252),(0.08,0.253),(-0.29,0.239),(-0.28,0.230),
(-0.23,0.235),(-0.20,0.233),(-0.17,0.246),(-0.15,0.242),(-0.11,0.236),(-0.06,0.230),(0.01,0.237),(0.03,0.243),
(0.08,0.225),(0.12,0.241),(0.22,0.236),(0.26,0.239),(-0.27,0.219),(-0.22,0.225),(-0.18,0.215),(-0.16,0.226),
(-0.11,0.218),(-0.01,0.215),(0.04,0.212),(0.06,0.204),(0.09,0.207),(0.14,0.218),(0.17,0.224),(0.20,0.211),
(0.25,0.218),(0.29,0.208),(-0.08,0.194),(0.01,0.192),(0.15,0.198),(0.19,0.194),(0.15,0.130),(-0.28,0.004)]

jit_10 = [(0.07,0.923),(-0.26,0.890),(0.03,0.894),(0.15,0.875),(-0.30,0.839),(0.15,0.832),(0.17,0.825),
(-0.21,0.780),(-0.26,0.762),(-0.26,0.751),(-0.26,0.740),(-0.11,0.736),(0.05,0.715),(0.28,0.709),(0.09,0.671),
(0.23,0.665),(0.26,0.669),(0.26,0.661),(-0.18,0.657),(-0.12,0.655),(-0.13,0.649),(0.01,0.657),(0.07,0.637),
(-0.04,0.634),
(-0.29,0.627),(-0.13,0.627),(-0.10,0.620),(-0.07,0.623),(-0.01,0.621),(0.23,0.613),(0.29,0.600),(-0.01,0.601),
(-0.03,0.596),(0.04,0.594),(0.10,0.606),(0.09,0.585),(0.18,0.568),(0.09,0.565),(-0.01,0.560),(-0.18,0.541),
(-0.11,0.551),(-0.10,0.541),(-0.10,0.514),(-0.07,0.510),(-0.05,0.515),(0.06,0.490),(0.08,0.473),(-0.28,0.476),
(0.20,0.479),(0.23,0.482),(-0.18,0.458),(-0.05,0.458),(-0.03,0.442),(-0.07,0.417),(0.20,0.436),(0.23,0.437),
(0.16,0.419),(0.03,0.392),(0.14,0.391),(0.22,0.387),(-0.22,0.380),(-0.20,0.370),(-0.07,0.370),(-0.02,0.356),
(0.02,0.331),(0.13,0.343),(0.17,0.349),(0.20,0.339),(0.16,0.322),(0.03,0.312),
(-0.04,0.305),(-0.15,0.295),(0.03,0.292),(0.08,0.301),(0.11,0.291),(-0.26,0.280),(-0.21,0.277),(-0.16,0.282),
(-0.11,0.275),(-0.08,0.271),(0.02,0.270),(-0.22,0.269),(0.02,0.250),(-0.22,0.252),(0.18,0.257),(0.20,0.268),
(0.24,0.252),(0.28,0.261),(0.29,0.280),(-0.27,0.236),(0.19,0.232)]

jitters = [jit_1, jit_2, jit_3, jit_4, jit_5, jit_6, jit_7, jit_8, jit_9, jit_10]

BOX_WIDTH = 0.75
EDGE = "#333333"
FONT = "Liberation Sans, Arial, sans-serif"

fig = go.Figure()

# boxes from the statistics
for i, g in enumerate(groups):
    fig.add_trace(go.Box(
        x=[g], q1=[q1s[i]], median=[medians[i]], q3=[q3s[i]],
        lowerfence=[low_whisker[i]], upperfence=[high_whisker[i]],
        width=BOX_WIDTH, whiskerwidth=0, boxpoints=False,
        fillcolor=fill_colors[i], line=dict(color=EDGE, width=2),
        hoverinfo="skip", showlegend=False))

# thicker median bars (ggplot fatten)
med_x, med_y = [], []
for g, m in zip(groups, medians):
    med_x += [g - BOX_WIDTH / 2, g + BOX_WIDTH / 2, None]
    med_y += [m, m, None]
fig.add_trace(go.Scatter(x=med_x, y=med_y, mode="lines",
                         line=dict(color=EDGE, width=4.5),
                         hoverinfo="skip", showlegend=False))

# outliers
ox, oy = [], []
for g, outs in zip(groups, outliers):
    ox += [g] * len(outs)
    oy += outs
fig.add_trace(go.Scatter(x=ox, y=oy, mode="markers",
                         marker=dict(color=EDGE, size=11, line=dict(width=0)),
                         hoverinfo="skip", showlegend=False))

# jittered raw points
jx, jy = [], []
for g, pts in zip(groups, jitters):
    for dx, v in pts:
        jx.append(g + dx)
        jy.append(v)
fig.add_trace(go.Scatter(x=jx, y=jy, mode="markers",
                         marker=dict(color="black", size=5, symbol="square",
                                     line=dict(width=0)),
                         hoverinfo="skip", showlegend=False))

fig.update_layout(
    width=3181, height=1469,
    margin=dict(l=123, r=17, t=63, b=63),
    paper_bgcolor="white", plot_bgcolor="#EBEBEB",
    boxmode="overlay",
    font=dict(family=FONT),
    title=dict(text="Boxplot", font=dict(family=FONT, size=36, color="black"),
               xref="paper", x=0, xanchor="left",
               yref="container", y=1 - 30 / 1469, yanchor="middle"),
    xaxis=dict(range=[0.4, 10.6], tickmode="array", tickvals=groups, ticktext=tick_labels,
               showgrid=True, gridcolor="white", gridwidth=2.6, zeroline=False,
               ticks="outside", ticklen=8, tickwidth=2, tickcolor=EDGE,
               tickfont=dict(family=FONT, size=27, color="#4D4D4D"),
               showline=False, fixedrange=True),
    yaxis=dict(range=[-0.05, 1.05], tickmode="array",
               tickvals=[0, 0.25, 0.5, 0.75, 1.0],
               ticktext=["0.00", "0.25", "0.50", "0.75", "1.00"],
               showgrid=True, gridcolor="white", gridwidth=2.6, zeroline=False,
               minor=dict(tickmode="array", tickvals=[0.125, 0.375, 0.625, 0.875],
                          showgrid=True, gridcolor="white", gridwidth=1.3, ticks=""),
               ticks="outside", ticklen=8, tickwidth=2, tickcolor=EDGE,
               tickfont=dict(family=FONT, size=27, color="#4D4D4D"),
               showline=False, fixedrange=True),
    annotations=[dict(text="pvector", textangle=-90, showarrow=False,
                      xref="paper", x=0, xshift=-92, xanchor="center",
                      yref="paper", y=0.5, yanchor="middle",
                      font=dict(family=FONT, size=33, color="black"))],
)

fig.write_html("out.html")
